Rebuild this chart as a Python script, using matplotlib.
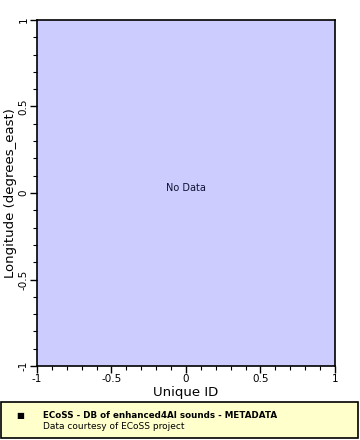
import matplotlib
matplotlib.use("Agg")
import matplotlib.pyplot as plt
from matplotlib.patches import Rectangle
from matplotlib.ticker import MultipleLocator

xlim = [-1, 1]
ylim = [-1, 1]
xticks = [-1, -0.5, 0, 0.5, 1]
yticks = [-1, -0.5, 0, 0.5, 1]
ticklabels = ["-1", "-0.5", "0", "0.5", "1"]
titel = "ECoSS - DB of enhanced4AI sounds - METADATA"
bron = "Data courtesy of ECoSS project"

plt.rcParams['font.family'] = ['DejaVu Sans']
fig = plt.figure(figsize=(3.6, 4.4), dpi=100)
ax = fig.add_axes([37/360, 1-366/440, 298/360, 346/440])
ax.set_facecolor("#ccccff")
ax.set_xlim(xlim)
ax.set_ylim(ylim)
ax.set_xticks(xticks)
ax.set_xticklabels(ticklabels, fontsize=7.5)
ax.set_yticks(yticks)
ax.set_yticklabels(ticklabels, fontsize=7.5, rotation=90, va="center")
ax.xaxis.set_minor_locator(MultipleLocator(0.1))
ax.yaxis.set_minor_locator(MultipleLocator(0.1))
ax.tick_params(which="major", length=5, width=1, direction="out", pad=1)
ax.tick_params(which="minor", length=3, width=0.8, direction="out")
for s in ax.spines.values():
    s.set_linewidth(1.2)
ax.set_xlabel("Unique ID", fontsize=9.5, labelpad=1)
ax.set_ylabel("Longitude (degrees_east)", fontsize=9.5, labelpad=1)
ax.text(0, 0.03, "No Data", fontsize=7, ha="center", va="center", color="#111133")

# legenda kader
fig.patches.append(Rectangle((1/360, 1-438/440), 357/360, 36/440, transform=fig.transFigure,
                             facecolor="#ffffcc", edgecolor="black", linewidth=1.2))
fig.text(20/360, 1-415/440, "■", fontsize=6, ha="center", va="center")
fig.text(43/360, 1-415/440, titel, fontsize=6.3, fontweight="bold", va="center")
fig.text(43/360, 1-426/440, bron, fontsize=6.5, va="center")

fig.savefig("out.png", dpi=100)
